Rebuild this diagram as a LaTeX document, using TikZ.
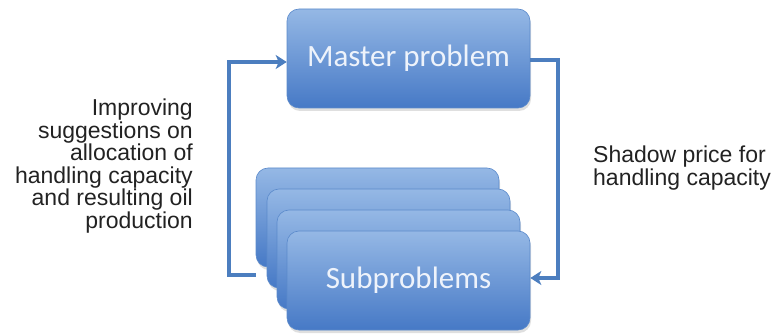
\documentclass[tikz,border=0pt]{standalone}
\usepackage{fontspec}
\setmainfont{Liberation Sans}
\newfontfamily\boxfont{Carlito}
\usetikzlibrary{arrows.meta,shadows,calc}

\definecolor{boxtop}{HTML}{95B8E5}
\definecolor{boxbot}{HTML}{4679C6}
\definecolor{boxline}{HTML}{5B8ACB}
\definecolor{linkblue}{HTML}{4C7EBF}
\definecolor{boxtext}{HTML}{EEF3FB}
\definecolor{labeltext}{HTML}{222222}

\tikzset{
  probbox/.style={
    rectangle, rounded corners=12pt,
    minimum width=243pt, minimum height=99pt,
    top color=boxtop, bottom color=boxbot,
    draw=boxline, line width=0.6pt,
    drop shadow={shadow xshift=1pt, shadow yshift=-3pt, opacity=0.25},
    text=boxtext, font=\boxfont\fontsize{31}{36}\selectfont,
    inner sep=0pt
  },
  conn/.style={draw=linkblue, line width=3.6pt},
  tipped/.style={conn, -{Stealth[length=11pt, width=14pt, inset=3pt]}},
  steplabel/.style={font=\fontsize{23}{22.6}\selectfont, text=labeltext, inner sep=0pt}
}

\begin{document}
\begin{tikzpicture}[x=1pt, y=-1pt]
  \useasboundingbox (0,0) rectangle (775,336);

  % bends of the two connectors
  \coordinate (lbend) at (229,275);
  \coordinate (rbend) at (558,60);

  % master problem
  \node[probbox] (master) at (408.5,58.5) {Master problem};

  % stack of subproblems, back to front
  \node[probbox] (sub1) at (377.5,217.5) {};
  % feedback line leaving the stack on the left
  \draw[tipped] (lbend -| sub1.west) -- (lbend) |- ($(master.west)+(0,3.5)$);
  \node[probbox] (sub2) at (388.5,238.5) {};
  \node[probbox] (sub3) at (398.5,259.5) {};
  \node[probbox] (sub4) at (408.5,280.5) {Subproblems};

  % price line on the right
  \draw[tipped] (master.east |- rbend) -- (rbend) |- ($(sub4.east)+(0,-2.5)$);

  % labels
  \node[steplabel, align=right, anchor=east] (leftlabel) at (193,166)
    {Improving\\suggestions on\\allocation of\\handling capacity\\and resulting oil\\production};
  \node[steplabel, align=left, anchor=west] (rightlabel) at (593,168)
    {Shadow price for\\handling capacity};
\end{tikzpicture}
\end{document}
